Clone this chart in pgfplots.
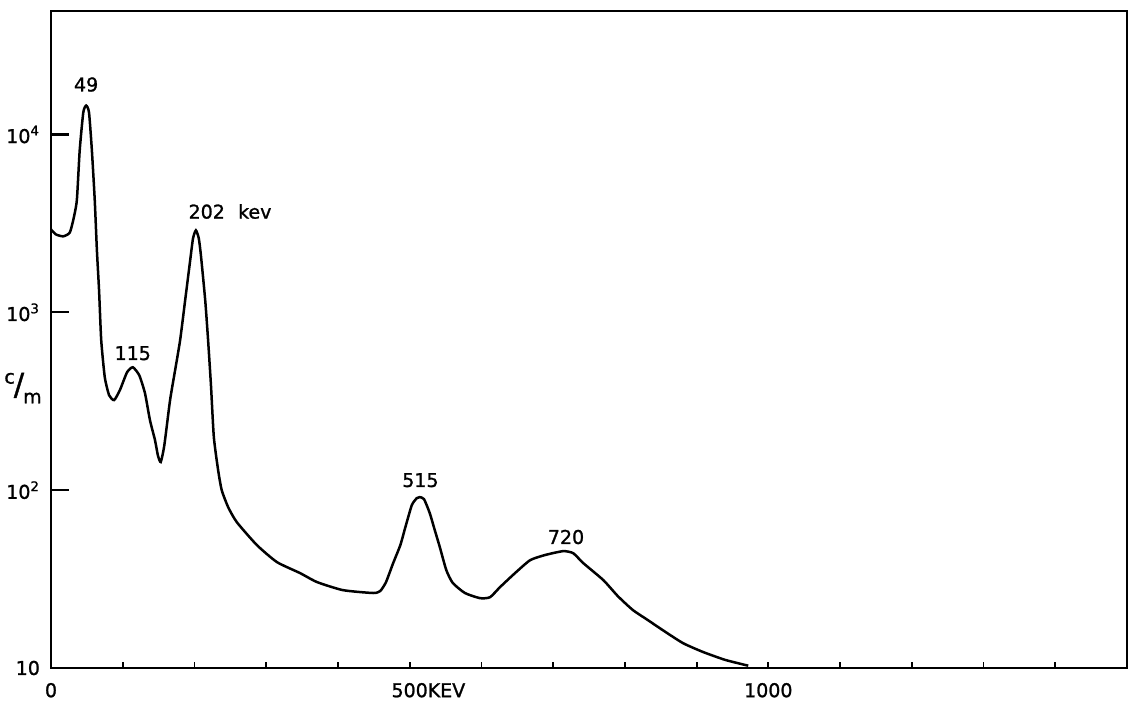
\documentclass[border=0pt]{standalone}
\usepackage{pgfplots}
\pgfplotsset{compat=1.18}
\usepackage{fontspec}
\setmainfont{DejaVu Sans}[BoldFont={DejaVu Sans}, BoldFeatures={FakeBold=1.2}]
\newcommand{\lf}{\fontsize{9.5}{10}\selectfont\bfseries}
\begin{document}
\begin{tikzpicture}[x=1pt,y=1pt]
\begin{semilogyaxis}[
  at={(0,0)}, anchor=south west,
  scale only axis, width=538pt, height=328.5pt,
  xmin=0, xmax=1500, ymin=10, ymax=49500,
  axis line style={black, line width=1.1pt},
  clip=false,
  xtick={0,100,...,1500},
  xticklabels={0,,,,,500\rlap{KEV},,,,,1000,,,,,},
  ytick={10,100,1000,10000},
  yticklabels={10,10\textsuperscript{2},10\textsuperscript{3},10\textsuperscript{4}},
  yminorticks=false,
  xtick pos=bottom, ytick pos=left,
  tick align=inside,
  major tick length=9pt,
  x tick style={black, line width=0.9pt, /pgfplots/major tick length=3pt},
  y tick style={black, line width=1.1pt},
  xticklabel style={font=\lf, yshift=-4pt},
  yticklabel style={font=\lf, xshift=-2pt},
  /pgf/number format/assume math mode=true,
]
\addplot[black, line width=1.25pt, smooth, tension=0.35] coordinates {
(0,2924) (7,2740) (17,2675) (26,2800) (31,3300) (36,4260) (40,8130) (45,13300) (49,14550)
(53,13300) (57,8130) (61,4260) (64,2230) (67,1330) (70,697) (75,431) (81,342)
(88,321) (96,365) (106,460) (114,491) (123,443) (131,351) (138,247) (145,191)
(149,157) (153,144) (158,179) (166,321) (173,472) (180,697) (187,1167) (194,1958)
(198,2607) (202,2890) (206,2607) (209,2090) (215,1167) (219,697) (223,389) (227,199)
(233,129.5) (238,100) (247,80.2) (259,66.1) (287,49.1) (315,39.4) (347,34.2) (371,30.4)
(407,27.4) (449,26.4) (459,27.1) (467,30.4) (477,38.9) (487,49.1) (494,61.9) (503,82.4)
(510,90.2) (514,91.4) (520,89) (528,74.3) (535,59.6) (542,47.9) (551,35.6) (560,30.1)
(577,26.4) (598,24.7) (612,25) (626,28.5) (647,34.2) (668,40.4) (689,43.2) (714,45.4)
(728,44.2) (742,38.9) (770,31.2) (790,25.4) (811,21.2) (832,18.6) (853,16.3) (881,13.8)
(909,12.3) (940,11.1) (972,10.3)
};
\node[font=\lf] at (axis cs:49,19100) {49};
\node[font=\lf] at (axis cs:114,589) {115};
\node[font=\lf, anchor=west] at (axis cs:182,3690) {202\hspace{0.7em}kev};
\node[font=\lf] at (axis cs:515,113.8) {515};
\node[font=\lf] at (axis cs:718,54.5) {720};
\node[font=\lf] at (rel axis cs:-0.026,0.426)
  {\raisebox{1.1ex}{c}\kern-0.05em\scalebox{1.6}{/}\kern-0.05em\raisebox{-0.8ex}{m}};
\end{semilogyaxis}
\pgfresetboundingbox
\path[use as bounding box] (-25.5pt,-18pt) rectangle (540pt,334pt);
\end{tikzpicture}
\end{document}
